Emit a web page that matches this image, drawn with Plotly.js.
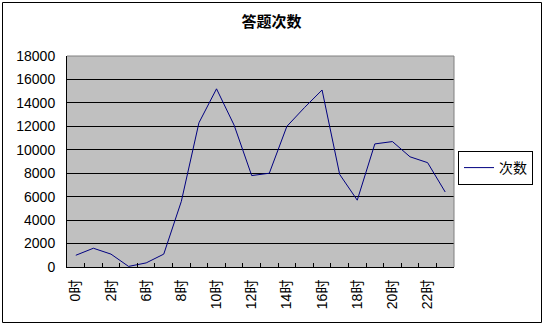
<!DOCTYPE html>
<html>
<head>
<meta charset="utf-8">
<script src="https://cdn.plot.ly/plotly-3.0.1.min.js"></script>
<style>html,body{margin:0;padding:0;background:#fff;}#chart{width:543px;height:325px;}</style>
</head>
<body>
<div id="chart"></div>
<script>
// Data
const hours = ["0时","1时","2时","3时","6时","7时","8时","9时","10时","11时","12时","13时","14时","15时","16时","17时","18时","19时","20时","21时","22时","23时"];
const counts = [1000,1600,1100,50,350,1100,5600,12300,15200,12100,7800,8000,12000,13600,15100,7900,5700,10500,10700,9400,8900,6400];
const seriesName = "次数";
const chartTitle = "答题次数";
const yTicks = [0,2000,4000,6000,8000,10000,12000,14000,16000,18000];

const tickText = hours.map((h, i) => (i % 2 === 0 ? h : ""));

const W = 543, H = 325;
const m = {l: 67, r: 89, t: 56, b: 58, autoexpand: false};
const pw = W - m.l - m.r, ph = H - m.t - m.b;
const px = x => (x - m.l) / pw;
const py = y => (H - m.b - y) / ph;

const trace = {
  type: "scatter",
  mode: "lines",
  x: hours,
  y: counts,
  name: seriesName,
  line: {color: "#000080", width: 1},
  showlegend: true
};

const layout = {
  width: W, height: H,
  margin: m,
  paper_bgcolor: "#ffffff",
  plot_bgcolor: "#c0c0c0",
  font: {family: "Liberation Sans, Noto Sans CJK SC, sans-serif", size: 14, color: "#000"},
  title: {
    text: chartTitle,
    font: {family: "Noto Sans CJK SC, sans-serif", size: 15, color: "#000", weight: "bold"},
    x: 0.5, xref: "container", xanchor: "center",
    y: 1 - 21.5 / H, yref: "container", yanchor: "middle"
  },
  xaxis: {
    type: "category",
    tickmode: "array",
    tickvals: hours,
    ticktext: tickText,
    tickangle: -90,
    tickson: "boundaries",
    ticks: "inside",
    ticklen: 4,
    tickcolor: "#000",
    showgrid: false,
    showline: true,
    linecolor: "#000",
    linewidth: 1,
    zeroline: false,
    ticklabelstandoff: 6,
    tickfont: {family: "Liberation Sans, Noto Sans CJK SC, sans-serif", size: 14, color: "#000"},
    range: [-0.5, hours.length - 0.5],
    automargin: false,
    fixedrange: true
  },
  yaxis: {
    range: [0, 18000],
    tickmode: "array",
    tickvals: yTicks,
    ticktext: yTicks.map(String),
    ticks: "inside",
    ticklen: 4,
    tickcolor: "#000",
    showgrid: true,
    gridcolor: "#000",
    gridwidth: 1,
    showline: true,
    linecolor: "#000",
    linewidth: 1,
    zeroline: false,
    ticklabelstandoff: 8,
    tickfont: {family: "Liberation Sans, sans-serif", size: 14, color: "#000"},
    automargin: false,
    fixedrange: true
  },
  showlegend: true,
  legend: {
    x: px(458), xref: "paper", xanchor: "left",
    y: py(151), yref: "paper", yanchor: "top",
    bgcolor: "#ffffff",
    bordercolor: "#000",
    borderwidth: 1,
    font: {family: "Noto Sans CJK SC, sans-serif", size: 14, color: "#000"},
    itemwidth: 30,
    tracegroupgap: 0
  },
  shapes: [
    {type: "line", xref: "paper", yref: "paper", x0: 0, x1: 1, y0: 1, y1: 1, line: {color: "#808080", width: 1}, layer: "above"},
    {type: "line", xref: "paper", yref: "paper", x0: 1, x1: 1, y0: 0, y1: 1, line: {color: "#808080", width: 1}, layer: "above"},
    {type: "rect", xref: "paper", yref: "paper", x0: px(2.5), x1: px(541.5), y0: py(322.5), y1: py(2.5), line: {color: "#000", width: 1}, fillcolor: "rgba(0,0,0,0)", layer: "above"}
  ]
};

Plotly.newPlot("chart", [trace], layout, {displayModeBar: false, staticPlot: true});
</script>
</body>
</html>
